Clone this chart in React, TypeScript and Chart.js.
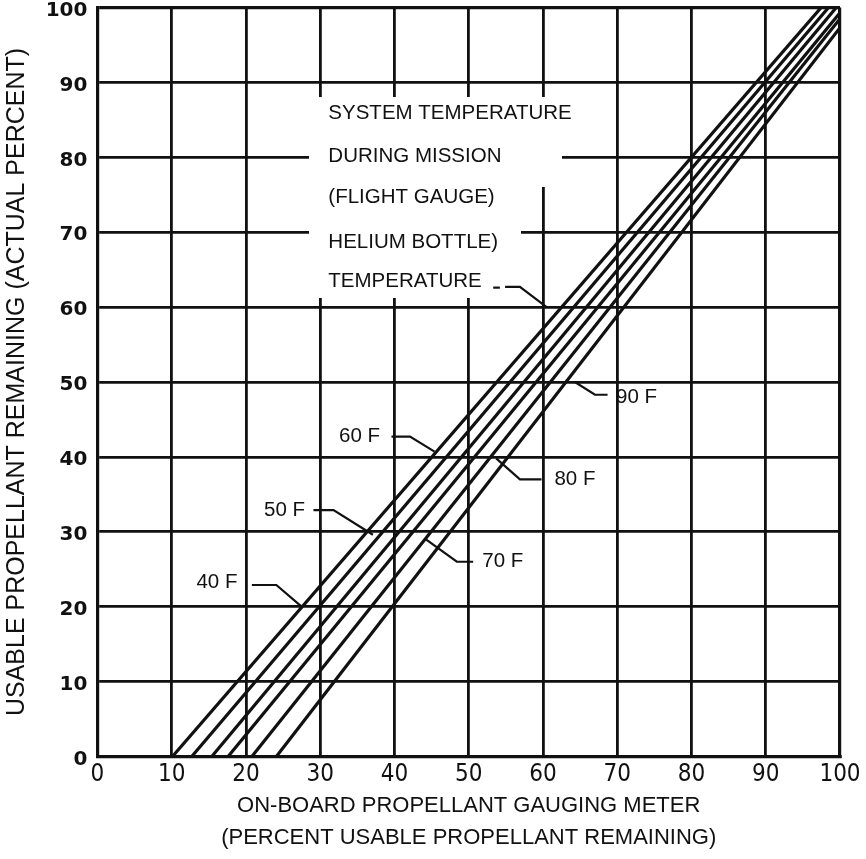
import React, { useEffect, useRef } from 'react';
import { Chart, registerables } from 'chart.js';

Chart.register(...registerables);

// ---- data ----
const seriesNames = ['40 F', '50 F', '60 F', '70 F', '80 F', '90 F'];
// meter reading (x) at which usable propellant reaches 0 %
const meterAtEmpty = [10.1, 12.7, 15.4, 17.6, 20.8, 24.1];
// usable propellant (y) when the meter reads 100 %
const usableAtFullMeter = [102.9, 101.8, 100.6, 99.3, 98.5, 97.3];

const xTickValues = [0, 10, 20, 30, 40, 50, 60, 70, 80, 90, 100];
const yTickValues = [0, 10, 20, 30, 40, 50, 60, 70, 80, 90, 100];

const xTitleLines = ['ON-BOARD PROPELLANT GAUGING METER', '(PERCENT USABLE PROPELLANT REMAINING)'];
const yTitleText = 'USABLE PROPELLANT REMAINING (ACTUAL PERCENT)';
const noteLines = ['SYSTEM TEMPERATURE', 'DURING MISSION', '(FLIGHT GAUGE)', 'HELIUM BOTTLE)', 'TEMPERATURE'];

// ---- annotation placement, in data units ----
const noteX = 31.1;
const noteY = [85.9, 80.1, 74.6, 68.7, 63.4];
const labelAt = [
  [16.1, 23.2],
  [25.2, 32.8],
  [35.3, 42.7],
  [54.6, 26.0],
  [64.3, 37.0],
  [72.6, 48.0],
];
const leaders = [
  [[20.8, 22.9], [24.1, 22.9], [27.5, 20.0]],
  [[29.1, 32.9], [31.8, 32.9], [37.1, 29.6]],
  [[39.6, 42.7], [42.1, 42.7], [45.4, 40.7]],
  [[50.6, 26.0], [48.4, 26.0], [44.1, 29.1]],
  [[59.8, 37.0], [56.9, 37.0], [53.7, 39.8]],
  [[68.7, 48.3], [67.0, 48.3], [64.3, 50.0]],
];
const tempDash = [[53.3, 62.6], [54.2, 62.6]];
const tempLeader = [[54.9, 62.7], [56.9, 62.7], [60.5, 60.0]];
const maskBoxes = [
  [28.5, 88.0, 62.5, 76.0],
  [28.5, 76.6, 57.0, 61.2],
];

const INK = '#111111';
const SANS = '"Liberation Sans", Arial, sans-serif';
const NARROW = '"Liberation Sans Narrow", "DejaVu Sans Condensed", "Liberation Sans", sans-serif';
const WIDE = '"DejaVu Sans", Verdana, sans-serif';

const notesPlugin = {
  id: 'notes',
  beforeDatasetsDraw(chart: any) {
    const { ctx, scales } = chart;
    const xs = scales.x;
    const ys = scales.y;
    ctx.save();
    ctx.fillStyle = '#ffffff';
    for (const [x1, y1, x2, y2] of maskBoxes) {
      const px1 = Math.round(xs.getPixelForValue(x1));
      const px2 = Math.round(xs.getPixelForValue(x2));
      const py1 = Math.round(ys.getPixelForValue(y1));
      const py2 = Math.round(ys.getPixelForValue(y2));
      ctx.fillRect(px1, py1, px2 - px1, py2 - py1);
    }
    ctx.restore();
  },
  afterDatasetsDraw(chart: any) {
    const { ctx, scales } = chart;
    const xs = scales.x;
    const ys = scales.y;
    const P = (p: number[]) => [xs.getPixelForValue(p[0]), ys.getPixelForValue(p[1])];
    const poly = (pts: number[][]) => {
      ctx.beginPath();
      pts.forEach((p, i) => {
        const [px, py] = P(p);
        if (i === 0) ctx.moveTo(px, py);
        else ctx.lineTo(px, py);
      });
      ctx.stroke();
    };
    ctx.save();
    ctx.fillStyle = INK;
    ctx.strokeStyle = INK;
    ctx.lineWidth = 2.2;
    ctx.lineJoin = 'miter';
    ctx.textBaseline = 'middle';

    ctx.font = `20.5px ${SANS}`;
    ctx.textAlign = 'left';
    noteLines.forEach((t, i) => {
      const [px, py] = P([noteX, noteY[i]]);
      ctx.fillText(t, px, py);
    });

    ctx.textAlign = 'center';
    seriesNames.forEach((name, i) => {
      const [px, py] = P(labelAt[i]);
      ctx.fillText(name, px, py);
      poly(leaders[i]);
    });

    poly(tempDash);
    poly(tempLeader);
    ctx.restore();
  },
};

export default function App() {
  const ref = useRef<HTMLCanvasElement>(null);

  useEffect(() => {
    const canvas = ref.current;
    if (!canvas) return;
    const chart = new Chart(canvas, {
      type: 'scatter',
      data: {
        datasets: seriesNames.map((name, i) => ({
          label: name,
          data: [
            { x: meterAtEmpty[i], y: 0 },
            { x: 100, y: usableAtFullMeter[i] },
          ],
          showLine: true,
          borderColor: INK,
          backgroundColor: INK,
          borderWidth: 3.2,
          pointRadius: 0,
          fill: false,
        })),
      },
      options: {
        responsive: false,
        animation: false,
        devicePixelRatio: 1,
        events: [],
        layout: { padding: { top: 7.5, left: 0, right: 26, bottom: 5 } },
        plugins: {
          legend: { display: false },
          tooltip: { enabled: false },
        },
        scales: {
          x: {
            type: 'linear',
            min: 0,
            max: 100,
            afterBuildTicks: (s: any) => {
              s.ticks = xTickValues.map((v) => ({ value: v }));
            },
            afterFit: (s: any) => {
              s.height = 97.5;
              s.paddingLeft = 0;
              s.paddingRight = 0;
            },
            ticks: {
              color: INK,
              padding: 4,
              maxRotation: 0,
              autoSkip: false,
              font: { family: NARROW, size: 24 },
              callback: (v: any) => String(v),
            },
            grid: {
              color: INK,
              lineWidth: (c: any) => (c.tick && c.tick.value === 100 ? 3.2 : 2.8),
              drawTicks: false,
            },
            border: { display: true, color: INK, width: 3.2 },
            title: {
              display: true,
              text: xTitleLines,
              color: INK,
              padding: { top: 0, bottom: 0 },
              font: { family: SANS, size: 22, lineHeight: 32 / 22 },
            },
          },
          y: {
            type: 'linear',
            min: 0,
            max: 100,
            afterBuildTicks: (s: any) => {
              s.ticks = yTickValues.map((v) => ({ value: v }));
            },
            afterFit: (s: any) => {
              s.width = 97.4;
              s.paddingTop = 0;
              s.paddingBottom = 0;
            },
            ticks: {
              color: INK,
              padding: 10,
              labelOffset: 3,
              autoSkip: false,
              font: { family: WIDE, size: 20, weight: 'bold' },
              callback: (v: any) => String(v),
            },
            grid: {
              color: INK,
              lineWidth: (c: any) => (c.tick && c.tick.value === 100 ? 3.2 : 2.8),
              drawTicks: false,
            },
            border: { display: true, color: INK, width: 3.2 },
            title: {
              display: true,
              text: yTitleText,
              color: INK,
              padding: { top: 2, bottom: 0 },
              font: { family: SANS, size: 25, lineHeight: 1.2 },
            },
          },
        },
      },
      plugins: [notesPlugin],
    } as any);
    return () => chart.destroy();
  }, []);

  return (
    <div style={{ position: 'fixed', left: 0, top: 0, width: 866, height: 859, background: '#ffffff' }}>
      <canvas ref={ref} width={866} height={859} style={{ display: 'block', width: 866, height: 859 }} />
    </div>
  );
}
